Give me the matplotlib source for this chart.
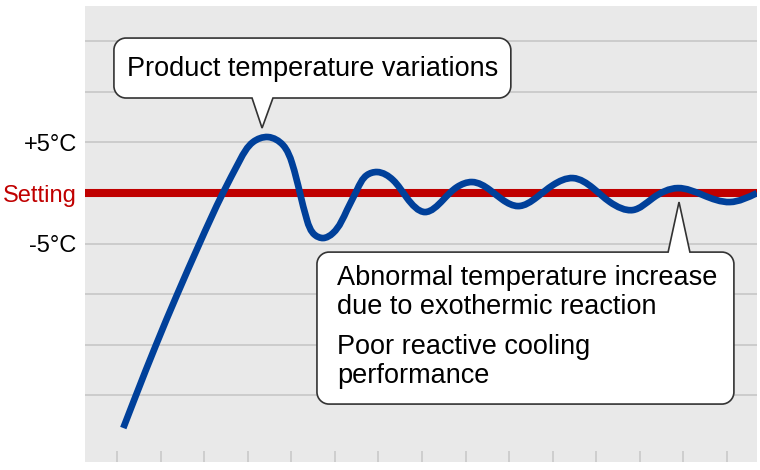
import numpy as np
import matplotlib
matplotlib.use("Agg")
import matplotlib.pyplot as plt
from matplotlib.path import Path
from matplotlib.patches import PathPatch

plt.rcParams['font.family'] = ['Liberation Sans', 'DejaVu Sans']

# product temperature relative to setting (degC), x in tick units
curve_x = [0.145, 0.429, 0.895, 1.375, 1.889, 2.431, 2.823, 3.121, 3.466, 3.810,
           4.017, 4.200, 4.361, 4.544, 4.728, 4.957, 5.279, 5.508, 5.738, 5.967,
           6.335, 6.656, 7.069, 7.482, 7.804, 8.148, 8.561, 8.859, 9.204, 9.640,
           10.007, 10.466, 10.925, 11.315, 11.843, 12.302, 12.876, 13.450, 14.069, 14.689]
curve_y = [-23.24, -20.08, -15.03, -10.09, -5.04, 0.0, 3.26, 5.04, 5.54, 4.75,
           2.97, 0.0, -2.67, -4.15, -4.45, -3.96, -1.68, 0.30, 1.78, 2.08,
           1.29, -0.49, -1.88, -0.69, 0.59, 1.09, 0.30, -0.69, -1.29, -0.40,
           0.79, 1.48, 0.49, -0.89, -1.68, -0.49, 0.49, -0.20, -0.89, 0.0]

grid_y = [-20, -15, -10, -5, 0, 5, 10, 15]
label_y = [5, 0, -5]
label_txt = ['+5°C', 'Setting', '-5°C']
label_col = ['black', '#c00000', 'black']
x_ticks = list(range(15))

note1 = 'Product temperature variations'
note2a = 'Abnormal temperature increase\ndue to exothermic reaction'
note2b = 'Poor reactive cooling\nperformance'
tip1 = (3.33, 6.43)
tip2 = (12.90, -0.89)

fig = plt.figure(figsize=(7.6, 4.7), dpi=100)
ax = fig.add_axes([85/760, 8/470, 672/760, 456/470])
ax.set_facecolor('#e9e9e9')
ax.set_xlim(-0.734, 14.69)
ax.set_ylim(-26.6, 18.5)
for s in ax.spines.values():
    s.set_visible(False)

for g in grid_y:
    if g != 0:
        ax.axhline(g, color='#c9c9c9', lw=1.3, zorder=1)
ax.axhline(0, color='#c00000', lw=5.8, zorder=2)

ax.set_xticks(x_ticks)
ax.set_xticklabels([])
ax.tick_params(axis='x', direction='in', length=8, width=1.2, color='#c9c9c9')
ax.set_yticks(label_y)
ax.set_yticklabels(label_txt, fontsize=17)
ax.tick_params(axis='y', length=0, pad=6)
for t, c in zip(ax.get_yticklabels(), label_col):
    t.set_color(c)


def spline_slopes(t, v):
    # first derivatives of a natural cubic spline at the knots
    n = len(t)
    h = np.diff(t)
    A = np.zeros((n, n))
    b = np.zeros(n)
    A[0, 0] = A[-1, -1] = 1
    for i in range(1, n - 1):
        A[i, i - 1] = h[i - 1]
        A[i, i] = 2 * (h[i - 1] + h[i])
        A[i, i + 1] = h[i]
        b[i] = 6 * ((v[i + 1] - v[i]) / h[i] - (v[i] - v[i - 1]) / h[i - 1])
    M = np.linalg.solve(A, b)
    m = np.zeros(n)
    m[:-1] = (v[1:] - v[:-1]) / h - h * (2 * M[:-1] + M[1:]) / 6
    m[-1] = (v[-1] - v[-2]) / h[-1] + h[-1] * (M[-2] + 2 * M[-1]) / 6
    return m


# smooth line through the read points, parametric spline drawn as Bezier segments
xs = np.array(curve_x)
ys = np.array(curve_y)
t = np.concatenate([[0], np.cumsum(np.hypot(np.diff(xs) * 43.57, np.diff(ys) * 10.11))])
mx = spline_slopes(t, xs)
my = spline_slopes(t, ys)
h = np.diff(t)
verts = [(xs[0], ys[0])]
codes = [Path.MOVETO]
for i in range(len(xs) - 1):
    verts += [(xs[i] + mx[i] * h[i] / 3, ys[i] + my[i] * h[i] / 3),
              (xs[i + 1] - mx[i + 1] * h[i] / 3, ys[i + 1] - my[i + 1] * h[i] / 3),
              (xs[i + 1], ys[i + 1])]
    codes += [Path.CURVE4] * 3
ax.add_patch(PathPatch(Path(verts, codes), fc='none', ec='#00409a', lw=4.8,
                       capstyle='butt', zorder=3))


def callout(x0, x1, y0, y1, bl, br, tip, side):
    rx, ry = 12/43.57, 12/10.11
    k = 0.5523
    v = [(x0 + rx, y1)]
    c = [Path.MOVETO]
    if side == 'top':
        v += [(bl, y1), tip, (br, y1)]
        c += [Path.LINETO] * 3
    v += [(x1 - rx, y1), (x1 - rx + k*rx, y1), (x1, y1 - ry + k*ry), (x1, y1 - ry)]
    c += [Path.LINETO] + [Path.CURVE4] * 3
    v += [(x1, y0 + ry), (x1, y0 + ry - k*ry), (x1 - rx + k*rx, y0), (x1 - rx, y0)]
    c += [Path.LINETO] + [Path.CURVE4] * 3
    if side == 'bottom':
        v += [(br, y0), tip, (bl, y0)]
        c += [Path.LINETO] * 3
    v += [(x0 + rx, y0), (x0 + rx - k*rx, y0), (x0, y0 + ry - k*ry), (x0, y0 + ry)]
    c += [Path.LINETO] + [Path.CURVE4] * 3
    v += [(x0, y1 - ry), (x0, y1 - ry + k*ry), (x0 + rx - k*rx, y1), (x0 + rx, y1)]
    c += [Path.LINETO] + [Path.CURVE4] * 3
    v += [(x0 + rx, y1)]
    c += [Path.CLOSEPOLY]
    ax.add_patch(PathPatch(Path(v, c), fc='white', ec='#333333', lw=1.2,
                           joinstyle='miter', zorder=5, clip_on=False))


callout(-0.07, 9.04, 9.40, 15.33, 3.10, 3.58, tip1, 'bottom')
callout(4.59, 14.16, -20.87, -5.84, 12.65, 13.15, tip2, 'top')

ax.text(0.23, 12.27, note1, fontsize=19.5, va='center', ha='left', zorder=6)
ax.text(5.05, -9.84, note2a, fontsize=19.5, va='center', ha='left',
        linespacing=1.14, zorder=6)
ax.text(5.05, -16.67, note2b, fontsize=19.5, va='center', ha='left',
        linespacing=1.14, zorder=6)

fig.savefig('out.png', dpi=100)
